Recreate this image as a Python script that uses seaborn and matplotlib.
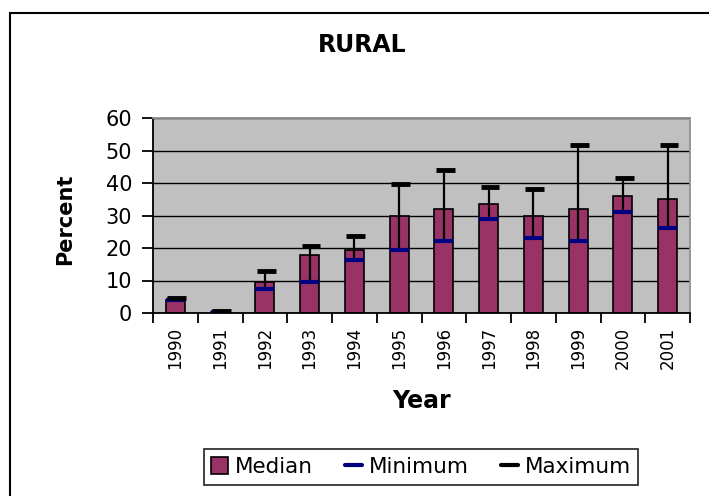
import numpy as np
import matplotlib
matplotlib.use('Agg')
import matplotlib.pyplot as plt
from matplotlib.patches import Patch, Rectangle
from matplotlib.lines import Line2D
import seaborn as sns

years = ['1990', '1991', '1992', '1993', '1994', '1995',
         '1996', '1997', '1998', '1999', '2000', '2001']
median = [4.1, 0.4, 9.6, 17.9, 19.4, 29.8, 31.9, 33.6, 29.8, 31.9, 35.9, 35.2]
minimum = [4.1, 0.4, 7.5, 9.6, 16.2, 19.5, 22.2, 29.0, 23.0, 22.2, 31.0, 26.2]
maximum = [4.6, 0.5, 12.9, 20.5, 23.6, 39.6, 44.0, 38.8, 38.3, 51.7, 41.4, 51.7]
yticks = [0, 10, 20, 30, 40, 50, 60]

BAR = '#993366'
MIN_COLOR = '#000080'
PLOT_BG = '#C0C0C0'

sns.set_style('white')
plt.rcParams['font.family'] = ['DejaVu Sans']
plt.rcParams.update({'text.color': 'black', 'axes.labelcolor': 'black',
                     'xtick.color': 'black', 'ytick.color': 'black'})

W, H = 709, 496
fig = plt.figure(figsize=(W / 100, H / 100), dpi=100)
ax = fig.add_axes([153 / W, 1 - 313 / H, 537 / W, 195 / H])
ax.set_facecolor(PLOT_BG)

sns.barplot(x=years, y=median, color=BAR, saturation=1, width=0.42,
            edgecolor='black', linewidth=1.2, ax=ax, zorder=2)

# high-low line with min / max marks, Excel style
pos = np.arange(len(years))
half = 0.21
ax.vlines(pos, minimum, maximum, color='black', lw=1.6, zorder=3)
ax.hlines(minimum, pos - half, pos + half, color=MIN_COLOR, lw=3, zorder=4)
ax.hlines(maximum, pos - half + 0.03, pos + half + 0.03, color='black', lw=3.5, zorder=4)

ax.set_ylim(0, 60)
ax.set_xlim(-0.5, len(years) - 0.5)
ax.set_yticks(yticks)
ax.set_axisbelow(True)
ax.yaxis.grid(True, color='black', lw=1)
ax.xaxis.grid(False)

for side in ['left', 'bottom']:
    ax.spines[side].set_color('black')
    ax.spines[side].set_linewidth(1.3)
for side in ['top', 'right']:
    ax.spines[side].set_color('#909090')
    ax.spines[side].set_linewidth(1.3)

ax.tick_params(axis='y', direction='out', length=8, width=1.3, color='black',
               labelsize=15, pad=7, left=True)
ax.tick_params(axis='x', which='major', length=0, labelsize=12, pad=10,
               labelrotation=90)
ax.set_xticks(np.arange(-0.5, len(years), 1), minor=True)
ax.tick_params(axis='x', which='minor', direction='out', length=7, width=1.3,
               color='black', bottom=True)

ax.set_xlabel('Year', fontsize=17, fontweight='bold')
ax.xaxis.set_label_coords(0.5, -0.39)
ax.set_ylabel('Percent', fontsize=15, fontweight='bold')
ax.yaxis.set_label_coords(-0.145, 0.48)

fig.text(362 / W, 1 - 45 / H, 'RURAL', ha='center', va='center',
         fontsize=17, fontweight='bold')

handles = [Patch(facecolor=BAR, edgecolor='black', lw=1.2),
           Line2D([], [], color=MIN_COLOR, lw=3),
           Line2D([], [], color='black', lw=3)]
leg = fig.legend(handles, ['Median', 'Minimum', 'Maximum'], ncol=3,
                 loc='center', bbox_to_anchor=(421 / W, 1 - 467 / H),
                 fontsize=15.5, frameon=True, fancybox=False, edgecolor='black',
                 handlelength=0.8, handleheight=0.8, handletextpad=0.3,
                 columnspacing=1.5, borderpad=0.35)
leg.get_frame().set_linewidth(1.3)

fig.patches.append(Rectangle((10 / W, -0.1), 1.2, 1 - 13 / H + 0.1,
                             transform=fig.transFigure, fill=False,
                             edgecolor='black', lw=1.5))

fig.savefig('out.png', dpi=100)
plt.close(fig)
